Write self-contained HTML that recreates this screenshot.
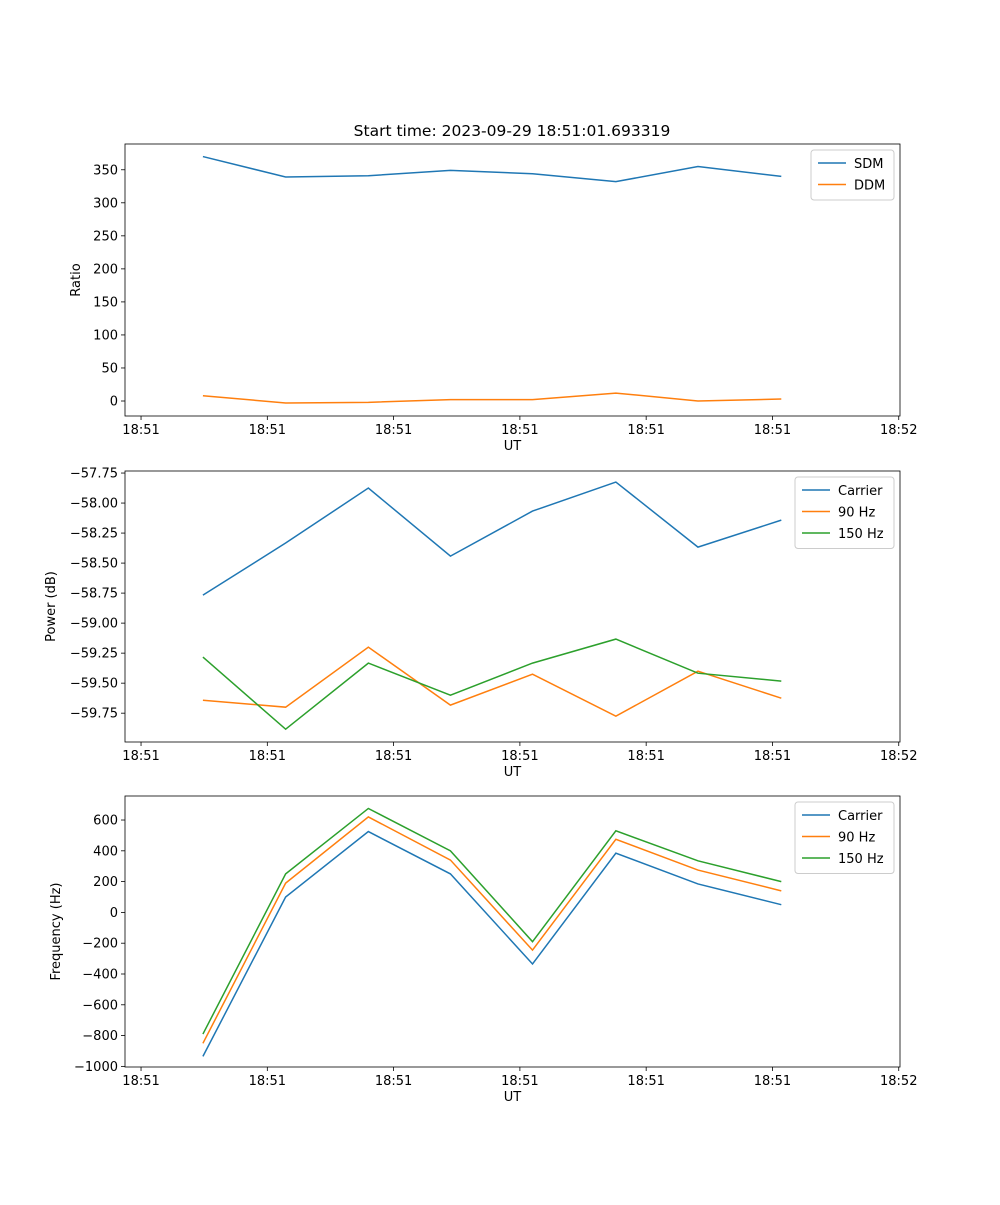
<!DOCTYPE html>
<html><head><meta charset="utf-8"><style>
body{margin:0;background:#fff;}
svg text{font-family:"DejaVu Sans","Liberation Sans",sans-serif;font-size:13px;fill:#000;}
</style></head><body>
<svg id="fig" width="1000" height="1200" xmlns="http://www.w3.org/2000/svg">
<text x="512" y="136" text-anchor="middle" style="font-size:15.5px">Start time: 2023-09-29 18:51:01.693319</text>
</svg>
<script>
// Shared time axis (seconds after 18:51:00)
const times = [4.9, 11.45, 18.0, 24.5, 31.0, 37.6, 44.1, 50.7];
const xTicks = [0, 10, 20, 30, 40, 50, 60];
const xTickLabels = ["18:51","18:51","18:51","18:51","18:51","18:51","18:52"];

// Panel 1: ratio
const sdm = [370, 339, 341, 349, 344, 332, 355, 340];
const ddm = [8, -3, -2, 2, 2, 12, 0, 3];
const ratioTicks = [0, 50, 100, 150, 200, 250, 300, 350];

// Panel 2: power
const powCarrier = [-58.767, -58.333, -57.875, -58.442, -58.067, -57.825, -58.367, -58.142];
const pow90 = [-59.642, -59.700, -59.200, -59.683, -59.425, -59.775, -59.400, -59.625];
const pow150 = [-59.283, -59.883, -59.333, -59.600, -59.333, -59.133, -59.417, -59.483];
const powTicks = [-57.75, -58.00, -58.25, -58.50, -58.75, -59.00, -59.25, -59.50, -59.75];

// Panel 3: frequency
const freqCarrier = [-935, 100, 525, 250, -335, 385, 185, 50];
const freq90 = [-850, 190, 620, 340, -245, 475, 275, 140];
const freq150 = [-790, 250, 675, 400, -190, 530, 335, 200];
const freqTicks = [-1000, -800, -600, -400, -200, 0, 200, 400, 600];

const NS = "http://www.w3.org/2000/svg";
const svg = document.getElementById("fig");
function mk(tag, attrs, parent) {
  const e = document.createElementNS(NS, tag);
  for (const k in attrs) e.setAttribute(k, attrs[k]);
  (parent || svg).appendChild(e);
  return e;
}
const L = 125, R = 900;
const xMin = -1.27, xMax = 60.1;
const xs = v => L + (v - xMin) / (xMax - xMin) * (R - L);

function panel(key, top, bot, yMin, yMax, ticks, fmt, ylabel, series, legendW) {
  const ys = v => bot - (v - yMin) / (yMax - yMin) * (bot - top);
  const g = mk("g", {});
  
  
  xTicks.forEach((t, i) => {
    const x = xs(t);
    mk("line", {x1: x, x2: x, y1: bot, y2: bot + 4, stroke: "#000", "stroke-width": 0.8}, g);
    const tx = mk("text", {x: x, y: bot + 18, "text-anchor": "middle"}, g);
    
    
    tx.textContent = xTickLabels[i];
  });
  ticks.forEach(t => {
    const y = ys(t);
    mk("line", {x1: L - 4, x2: L, y1: y, y2: y, stroke: "#000", "stroke-width": 0.8}, g);
    const tx = mk("text", {x: L - 7, y: y + 4.5, "text-anchor": "end"}, g);
    
    
    tx.textContent = fmt(t);
  });
  const xl = mk("text", {x: (L + R) / 2, y: bot + 34, "text-anchor": "middle"}, g);
  
  
  xl.textContent = "UT";
  const yx = key === "ratio" ? 80 : (key === "power" ? 55 : 60);
  const yl = mk("text", {x: yx, y: (top + bot) / 2, "text-anchor": "middle", transform: `rotate(-90 ${yx} ${(top + bot) / 2})`}, g);
  
  
  yl.textContent = ylabel;
  series.forEach(s => {
    const p = mk("polyline", {points: s.vals.map((v, i) => xs(times[i]) + "," + ys(v)).join(" "), fill: "none", stroke: s.color, "stroke-width": 1.5}, g);
    
    
  });
  const fr = mk("rect", {x: L, y: top, width: R - L, height: bot - top, fill: "none", stroke: "#000", "stroke-width": 0.8}, g);
  
  
  const lg = mk("g", {}, g);
  
  
  const lx = R - 6 - legendW, ly = top + 6;
  mk("rect", {x: lx, y: ly, width: legendW, height: series.length * 21.5 + 7, rx: 3, fill: "#fff", stroke: "#ccc"}, lg);
  series.forEach((s, i) => {
    const cy = ly + 13 + i * 21.5;
    mk("line", {x1: lx + 7, x2: lx + 35, y1: cy, y2: cy, stroke: s.color, "stroke-width": 1.5}, lg);
    const t = mk("text", {x: lx + 43, y: cy + 5}, lg);
    
    
    t.textContent = s.name;
  });
}
const B = "#1f77b4", O = "#ff7f0e", G = "#2ca02c";
panel("ratio", 144, 416, -22.7, 389, ratioTicks, t => String(t), "Ratio",
  [{id: "sdm", name: "SDM", vals: sdm, color: B}, {id: "ddm", name: "DDM", vals: ddm, color: O}], 83);
panel("power", 471, 742, -59.99, -57.733, powTicks, t => (t < 0 ? "\u2212" : "") + Math.abs(t).toFixed(2), "Power (dB)",
  [{id: "carrier", name: "Carrier", vals: powCarrier, color: B}, {id: "90hz", name: "90 Hz", vals: pow90, color: O}, {id: "150hz", name: "150 Hz", vals: pow150, color: G}], 99);
panel("frequency", 796, 1067, -1004, 756, freqTicks, t => (t < 0 ? "\u2212" : "") + Math.abs(t), "Frequency (Hz)",
  [{id: "carrier", name: "Carrier", vals: freqCarrier, color: B}, {id: "90hz", name: "90 Hz", vals: freq90, color: O}, {id: "150hz", name: "150 Hz", vals: freq150, color: G}], 99);
</script>
</body></html>
